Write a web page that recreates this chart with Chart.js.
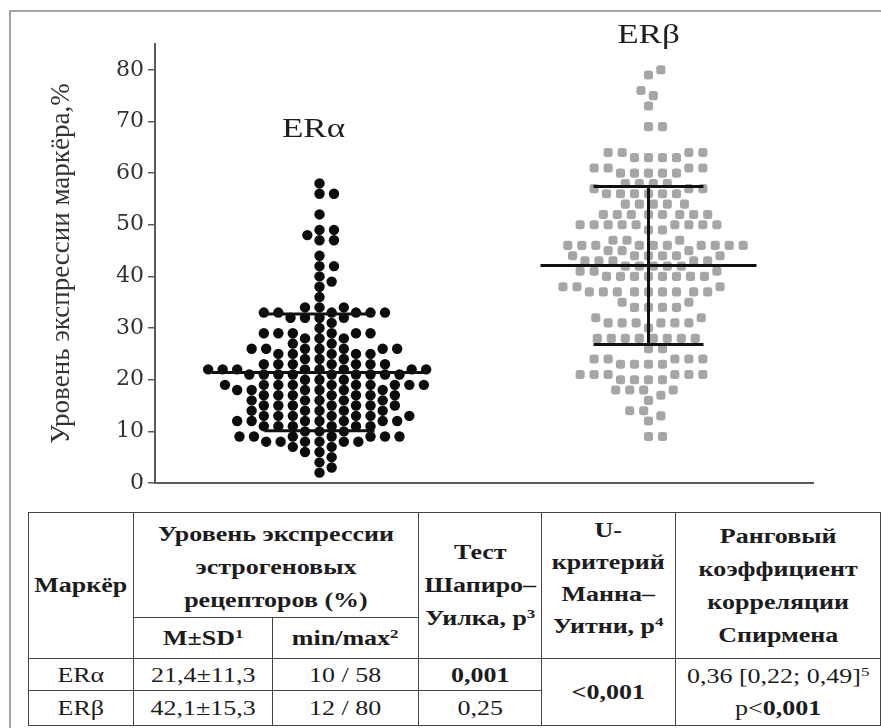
<!DOCTYPE html>
<html>
<head>
<meta charset="utf-8">
<script src="https://cdn.jsdelivr.net/npm/chart.js@4.4.1/dist/chart.umd.min.js"></script>
<style>
  html, body { margin: 0; padding: 0; background: #fff; }
  #page { position: relative; width: 881px; height: 728px; overflow: hidden; background: #fff; }
  #frame { position: absolute; left: 9px; top: 10px; width: 900px; height: 760px; border: 2px solid #a2a2a2; box-sizing: border-box; }
  #plot { position: absolute; left: 0; top: 0; }
  #stats { position: absolute; left: 28px; top: 512px; border-collapse: collapse; table-layout: fixed;
           font-family: "Liberation Serif", "Times New Roman", serif; color: #1c1c1c; }
  #stats th, #stats td { border: 1.5px solid #444; text-align: center; padding: 0; overflow: visible; }
  #stats th { font-weight: bold; font-size: 20px; line-height: 33px; }
  #stats td { font-size: 20px; line-height: 30px; }
  #stats .sx { display: block; transform: scaleX(1.3); transform-origin: 50% 50%; white-space: nowrap; }
  #stats sup { font-size: 13px; line-height: 0; vertical-align: 7px; }
</style>
</head>
<body>
<div id="page">
  <div id="frame"></div>
  <canvas id="plot" width="881" height="505"></canvas>
  <table id="stats">
    <colgroup>
      <col style="width:105px"><col style="width:140px"><col style="width:146px">
      <col style="width:124px"><col style="width:134px"><col style="width:206px">
    </colgroup>
    <thead>
      <tr style="height:105px">
        <th rowspan="2"><span class="sx">Маркёр</span></th>
        <th colspan="2" style="padding-top:5px"><span class="sx">Уровень экспрессии<br>эстрогеновых<br>рецепторов (%)</span></th>
        <th rowspan="2"><span class="sx">Тест<br>Шапиро–<br>Уилка, p<sup>3</sup></span></th>
        <th rowspan="2" style="line-height:32px; padding-bottom:16px"><span class="sx">U-<br>критерий<br>Манна–<br>Уитни, p<sup>4</sup></span></th>
        <th rowspan="2" style="line-height:33px"><span class="sx">Ранговый<br>коэффициент<br>корреляции<br>Спирмена</span></th>
      </tr>
      <tr style="height:41px">
        <th><span class="sx">M±SD<sup>1</sup></span></th>
        <th><span class="sx">min/max<sup>2</sup></span></th>
      </tr>
    </thead>
    <tbody id="statsBody"></tbody>
  </table>
</div>
<script>
// Marker names (also the group titles over each swarm)
const markers = ['ERα', 'ERβ'];

// Individual expression levels, %, one entry per tumour sample
const alphaValues = [
  58, 56, 56, 52, 49, 49, 48, 47, 47, 44, 42, 42, 40, 39, 38, 36,
  34, 34, 34, 33, 33, 33, 33, 33, 33, 32, 32, 32, 32, 31, 30,
  29, 29, 29, 29, 29, 29, 28, 28, 28, 27, 27,
  26, 26, 26, 26, 26, 26, 26, 25, 25, 25, 25, 25, 24, 24, 24,
  23, 23, 23, 23, 23, 23, 23, 22, 22, 22, 22, 22, 22, 22, 22,
  21, 21, 21, 21, 21, 21, 21, 21, 21, 20, 20, 20,
  19, 19, 19, 19, 19, 19, 19, 19, 19, 19, 18, 18, 18, 18, 18, 18,
  17, 17, 17, 17, 17, 17, 17, 16, 16, 16, 16, 16,
  15, 15, 15, 15, 15, 15, 15, 14, 14, 14, 14, 14,
  13, 13, 13, 13, 13, 13, 13, 12, 12, 12, 12, 12, 12, 12,
  11, 11, 11, 11, 11, 11, 10, 10, 10,
  9, 9, 9, 9, 9, 9, 9, 8, 8, 8, 8, 8, 8, 7, 7, 6, 6, 5, 4, 3, 2
];
const betaValues = [
  80, 79, 76, 75, 73, 69, 69,
  64, 64, 64, 64, 63, 63, 63, 63, 61, 61, 61, 61, 60, 60, 60, 60, 60,
  58, 58, 58, 58, 57, 57, 57, 56, 56, 56, 56, 56, 56, 54, 54, 54, 54, 54,
  52, 52, 52, 52, 52, 52, 52, 52, 50, 50, 50, 50, 50, 50, 50, 50, 50, 49, 49,
  47, 47, 47, 46, 46, 46, 46, 46, 46, 46, 46, 46, 46, 45, 45, 45,
  44, 44, 44, 44, 44, 44, 43, 43, 43, 43, 43, 42, 42, 42, 42, 42, 41, 41, 41,
  40, 40, 40, 40, 40, 40, 40, 40, 38, 38, 38, 37, 37, 37, 37, 37, 37, 37, 37, 37,
  35, 35, 34, 34, 34, 34, 32, 32, 31, 31, 31, 31, 31, 31, 30,
  28, 28, 28, 28, 28, 28, 28, 28, 26, 26, 24, 24, 24, 24, 24, 23, 23, 23, 23,
  21, 21, 21, 21, 21, 21, 20, 20, 20, 20, 18, 18, 18, 18, 17, 16, 14, 14, 13, 12, 9, 9
];

// Summary statistics per marker
const meanValues = [21.4, 42.1];
const sdValues = [11.3, 15.3];
const minValues = [10, 12];
const maxValues = [58, 80];
const shapiroP = [0.001, 0.25];
const mannWhitneyP = 0.001;          // reported as "<0,001"
const spearmanRho = 0.36;
const spearmanCI = [0.22, 0.49];
const spearmanP = 0.001;             // reported as "p<0,001"

// Y axis tick values
const yTicks = [0, 10, 20, 30, 40, 50, 60, 70, 80];

const fmt = (v, d) => v.toFixed(d).replace('.', ',');
const wrap = s => `<span class="sx">${s}</span>`;

// ---- statistics table ----
const body = document.getElementById('statsBody');
markers.forEach((m, i) => {
  const tr = document.createElement('tr');
  tr.style.height = i === 0 ? '32px' : '35px';
  const pTxt = fmt(shapiroP[i], shapiroP[i] < 0.01 ? 3 : 2);
  let html = `<td>${wrap(m)}</td><td>${wrap(fmt(meanValues[i], 1) + '±' + fmt(sdValues[i], 1))}</td>` +
             `<td>${wrap(minValues[i] + ' / ' + maxValues[i])}</td>` +
             `<td>${wrap(shapiroP[i] < 0.05 ? '<b>' + pTxt + '</b>' : pTxt)}</td>`;
  if (i === 0) {
    html += `<td rowspan="2">${wrap('<b>&lt;' + fmt(mannWhitneyP, 3) + '</b>')}</td>` +
            `<td rowspan="2" style="line-height:32px">${wrap(fmt(spearmanRho, 2) + ' [' + fmt(spearmanCI[0], 2) + '; ' +
              fmt(spearmanCI[1], 2) + ']<sup>5</sup><br>p&lt;<b>' + fmt(spearmanP, 3) + '</b>')}</td>`;
  }
  tr.innerHTML = html;
  body.appendChild(tr);
});

// ---- chart ----
// Mean line and ±SD whiskers drawn over each swarm
const meanSdPlugin = {
  id: 'meanSd',
  afterDatasetsDraw(chart, args, opts) {
    const { ctx, scales: { x, y } } = chart;
    ctx.save();
    ctx.strokeStyle = opts.color;
    ctx.lineWidth = opts.width;
    meanValues.forEach((m, i) => {
      const cx = x.getPixelForValue(i + 1);
      const yM = y.getPixelForValue(m);
      const yHi = y.getPixelForValue(m + sdValues[i]);
      const yLo = y.getPixelForValue(m - sdValues[i]);
      ctx.beginPath();
      ctx.moveTo(cx - opts.meanHalf, yM); ctx.lineTo(cx + opts.meanHalf, yM);
      ctx.moveTo(cx - opts.capHalf, yHi); ctx.lineTo(cx + opts.capHalf, yHi);
      ctx.moveTo(cx - opts.capHalf, yLo); ctx.lineTo(cx + opts.capHalf, yLo);
      ctx.moveTo(cx, yHi); ctx.lineTo(cx, yLo);
      ctx.stroke();
    });
    ctx.restore();
  }
};

// Marker names written above each group (set slightly wide, like the axis lettering)
const groupTitlePlugin = {
  id: 'groupTitles',
  afterDraw(chart, args, opts) {
    const { ctx, scales: { x, y } } = chart;
    markers.forEach((m, i) => {
      ctx.save();
      ctx.translate(x.getPixelForValue(i + 1) + opts.shift[i], y.getPixelForValue(opts.levels[i]));
      ctx.scale(opts.stretch, 1);
      ctx.fillStyle = opts.color;
      ctx.font = opts.font;
      ctx.textAlign = 'center';
      ctx.textBaseline = 'middle';
      ctx.fillText(m, 0, 0);
      ctx.restore();
    });
  }
};

const chart = new Chart(document.getElementById('plot'), {
  type: 'scatter',
  data: {
    datasets: [
      { label: markers[0], data: alphaValues.map(v => ({ x: 1, y: v })),
        pointStyle: 'circle', pointRadius: 5.2, backgroundColor: '#0c0c0c', borderWidth: 0 },
      { label: markers[1], data: betaValues.map(v => ({ x: 2, y: v })),
        pointStyle: 'rectRounded', pointRadius: 5.3, backgroundColor: '#a6a6a6', borderWidth: 0 }
    ]
  },
  options: {
    responsive: false,
    animation: false,
    events: [],
    layout: { padding: { top: 44, right: 68, bottom: 22, left: 0 } },
    plugins: {
      legend: { display: false },
      tooltip: { enabled: false },
      meanSd: { color: '#111', width: 3, meanHalf: 108, capHalf: 55 },
      groupTitles: { color: '#1e1e1e', font: '27px "Liberation Serif"', stretch: 1.3,
                     levels: [68.3, 86.6], shift: [-6, 0] }
    },
    scales: {
      x: {
        type: 'linear', min: 0.5, max: 2.5,
        ticks: { display: false },
        grid: { display: false, drawTicks: false },
        border: { display: true, color: '#5a5a5a', width: 2 },
        afterFit: s => { s.height = 0; }
      },
      y: {
        min: 0, max: 85,
        afterBuildTicks: s => { s.ticks = yTicks.map(v => ({ value: v })); },
        ticks: { padding: 4, color: '#333', font: { family: 'DejaVu Serif', size: 22 } },
        grid: { drawOnChartArea: false, tickLength: 7, color: '#5a5a5a', lineWidth: 1.5 },
        border: { color: '#5a5a5a', width: 2 },
        title: { display: true, text: 'Уровень экспрессии маркёра,%', color: '#333',
                 font: { family: 'Liberation Serif', size: 27 }, padding: { top: 46, bottom: 0 } },
        afterFit: s => { s.width = 155; }
      }
    }
  },
  plugins: [meanSdPlugin, groupTitlePlugin]
});

// Beeswarm placement: every point keeps an elliptical clearance (gapX wide, gapY tall)
// from the points already placed and takes the free slot nearest the group centre.
function swarm(values, centre, gapX, gapY) {
  const xs = chart.scales.x, ys = chart.scales.y;
  const cx = xs.getPixelForValue(centre);
  const order = values.map((v, i) => i).sort((a, b) => values[a] - values[b]);
  const placed = [];
  const out = new Array(values.length);
  const need = dy => gapX * Math.sqrt(Math.max(0, 1 - (dy / gapY) ** 2));
  for (const i of order) {
    const py = ys.getPixelForValue(values[i]);
    const near = placed.filter(p => Math.abs(p.y - py) < gapY);
    const cands = [0];
    near.forEach(p => { const d = need(p.y - py); cands.push(p.x + d, p.x - d); });
    cands.sort((a, b) => Math.abs(a) - Math.abs(b));
    const best = cands.find(c => near.every(p => Math.abs(p.x - c) >= need(p.y - py) - 1e-6));
    placed.push({ x: best, y: py });
    out[i] = { x: xs.getValueForPixel(cx + best), y: values[i] };
  }
  return out;
}
chart.data.datasets[0].data = swarm(alphaValues, 1, 14.5, 9.5);
chart.data.datasets[1].data = swarm(betaValues, 2, 14, 11);
chart.update('none');
</script>
</body>
</html>
